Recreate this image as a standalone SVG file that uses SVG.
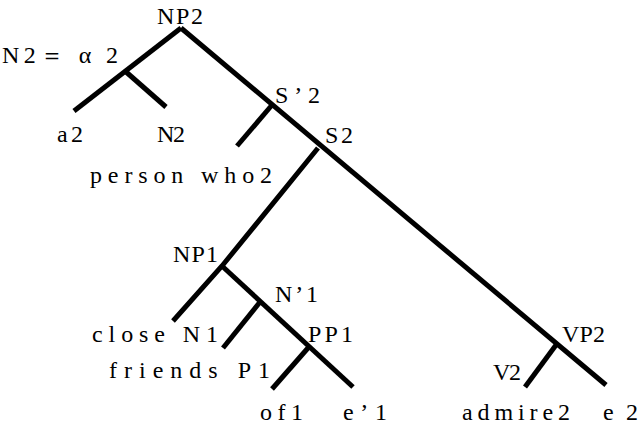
<svg xmlns="http://www.w3.org/2000/svg" width="641" height="427" viewBox="0 0 641 427">
  <style>
    .edge { stroke: #000; stroke-width: 5; fill: none; stroke-linecap: butt; stroke-linejoin: miter; }
    text { font-family: 'Liberation Serif', 'Times New Roman', 'DejaVu Serif', serif; font-size: 24px; fill: #000; }
  </style>
  <rect width="641" height="427" fill="#fff"/>
  <g id="connectors">
    <line class="edge" x1="181" y1="28" x2="74" y2="111"/>
    <line class="edge" x1="125" y1="71" x2="166" y2="107"/>
    <line class="edge" x1="181" y1="28" x2="606" y2="385"/>
    <line class="edge" x1="272" y1="105" x2="237" y2="146"/>
    <polyline class="edge" points="318,148 222,266 173,321"/>
    <line class="edge" x1="222" y1="266" x2="353" y2="387"/>
    <line class="edge" x1="260" y1="302" x2="223" y2="348"/>
    <line class="edge" x1="308" y1="348" x2="272" y2="389"/>
    <line class="edge" x1="556" y1="345" x2="525" y2="387"/>
  </g>
  <g id="NP2"><text x="157" y="24" textLength="46" lengthAdjust="spacing">NP2</text></g>
  <g id="N2-alpha"><text x="2" y="63" textLength="116" lengthAdjust="spacing">N2＝ α 2</text></g>
  <g id="a2"><text x="57" y="142" textLength="26" lengthAdjust="spacing">a2</text></g>
  <g id="N2"><text x="157" y="142" textLength="28" lengthAdjust="spacing">N2</text></g>
  <g id="S-bar2"><text x="275" y="103" textLength="45" lengthAdjust="spacing">S’2</text></g>
  <g id="person-who2"><text x="90" y="183" textLength="182" lengthAdjust="spacing">person who2</text></g>
  <g id="S2"><text x="325" y="143" textLength="28" lengthAdjust="spacing">S2</text></g>
  <g id="NP1"><text x="173" y="262" textLength="45" lengthAdjust="spacing">NP1</text></g>
  <g id="N-bar1"><text x="275" y="302" textLength="43" lengthAdjust="spacing">N’1</text></g>
  <g id="close-N1"><text x="92" y="342" textLength="126" lengthAdjust="spacing">close N1</text></g>
  <g id="PP1"><text x="308" y="342" textLength="45" lengthAdjust="spacing">PP1</text></g>
  <g id="friends-P1"><text x="109" y="378" textLength="161" lengthAdjust="spacing">friends P1</text></g>
  <g id="of1"><text x="260" y="420" textLength="43" lengthAdjust="spacing">of1</text></g>
  <g id="e-bar1"><text x="343" y="420" textLength="44" lengthAdjust="spacing">e’1</text></g>
  <g id="VP2"><text x="562" y="342" textLength="43" lengthAdjust="spacing">VP2</text></g>
  <g id="V2"><text x="493" y="380" textLength="28" lengthAdjust="spacing">V2</text></g>
  <g id="admire2"><text x="462" y="420" textLength="108" lengthAdjust="spacing">admire2</text></g>
  <g id="e2"><text x="603" y="420" textLength="35" lengthAdjust="spacing">e2</text></g>
</svg>
